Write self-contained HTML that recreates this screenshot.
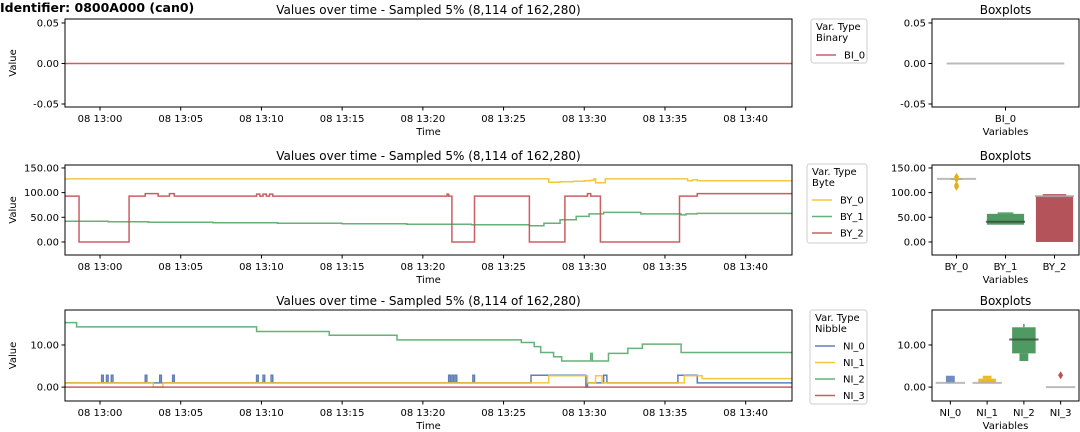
<!DOCTYPE html>
<html><head><meta charset="utf-8"><style>
html,body{margin:0;padding:0;background:#fff;}
svg{display:block;font-family:"DejaVu Sans","Liberation Sans",sans-serif;}
</style></head><body>
<svg id="chart" width="1080" height="432" viewBox="0 0 1080 432" xmlns="http://www.w3.org/2000/svg">
<text x="0" y="12" font-size="12.5" font-weight="bold">Identifier: 0800A000 (can0)</text>
</svg>
<script>
// ---------- data ----------
const xTickMinutes = [0,5,10,15,20,25,30,35,40];
const xTickLabels = ["08 13:00","08 13:05","08 13:10","08 13:15","08 13:20","08 13:25","08 13:30","08 13:35","08 13:40"];
// binary
const bi0T = [-2.17, 42.87];
const bi0V = [0, 0];
// byte
const by0T = [-2.17, 27.8, 28.5, 29.3, 30.0, 30.4, 30.6, 30.7, 31.3, 36.4, 36.7, 37.0];
const by0V = [128, 121, 122, 123, 124, 125, 128, 120, 128, 124, 126, 124];
const by1T = [-2.17, 0.5, 3, 7, 11, 15, 19, 23, 26.6, 27.5, 28.5, 29.5, 30.3, 31.2, 33.5, 36.0, 36.3, 37.0];
const by1V = [42, 41, 40, 39, 38, 37, 36, 35, 33, 38, 45, 52, 57, 60, 57, 55, 57, 58];
const by2T = [-2.17, -1.3, 1.8, 2.8, 3.6, 4.3, 4.6, 9.7, 9.9, 10.1, 10.3, 10.5, 10.7, 21.5, 21.6, 21.8, 23.2, 26.6, 28.8, 30.2, 30.4, 31.0, 35.9, 37.0];
const by2V = [93, 0, 93, 98, 93, 98, 93, 97, 93, 97, 93, 97, 93, 97, 93, 0, 93, 0, 93, 98, 93, 0, 93, 98];
// nibble
const ni0T = [-2.17, 0.1, 0.2, 0.4, 0.5, 0.7, 0.8, 2.8, 2.9, 3.7, 3.8, 4.5, 4.6, 9.7, 9.8, 10.1, 10.2, 10.6, 10.7, 21.6, 21.7, 21.8, 21.9, 22.0, 22.1, 23.1, 23.2, 26.7, 30.1, 30.2, 31.2, 31.4, 35.8, 37.0];
const ni0V = [1, 2.8, 1, 2.8, 1, 2.8, 1, 2.8, 1, 2.8, 1, 2.8, 1, 2.8, 1, 2.8, 1, 2.8, 1, 2.8, 1, 2.8, 1, 2.8, 1, 2.8, 1, 2.8, 0, 1, 2.8, 1, 2.8, 1];
const ni1T = [-2.17, 3.3, 3.9, 27.8, 30.2, 30.7, 31.1, 36.2, 37.3];
const ni1V = [1, 0, 1, 2.7, 1, 2.7, 1, 2.7, 2];
const ni2T = [-2.17, -1.45, 9.7, 14.2, 18.4, 26.1, 26.9, 27.3, 28.1, 28.6, 30.4, 30.5, 31.5, 32.7, 33.6, 36.0];
const ni2V = [15.3, 14.3, 13.2, 12.3, 11.2, 10.6, 9.6, 8.2, 7.2, 6.2, 8, 6.2, 8, 9.2, 10.2, 8.2];
const ni3T = [-2.17, 42.87];
const ni3V = [0, 0];
// boxplot summaries: tiers [low, high, widthFraction]
const boxCatsBinary = ["BI_0"];
const boxCatsByte = ["BY_0","BY_1","BY_2"];
const boxCatsNibble = ["NI_0","NI_1","NI_2","NI_3"];
const by0Tiers = [[126,129,0.3]]; const by0Median = 128; const by0Out = [112,115,127,132];
const by1Tiers = [[35,57,0.95],[57,60,0.4]]; const by1Median = 41; const by1Out = [];
const by2Tiers = [[0,93,0.95],[93,97,0.6]]; const by2Median = 93; const by2Out = [];
const ni0Tiers = [[1,2.7,0.3]]; const ni0Median = 1; const ni0Out = [];
const ni1Tiers = [[1,2,0.6],[2,2.7,0.3]]; const ni1Median = 1; const ni1Out = [];
const ni2Tiers = [[8,14.2,0.8],[6.2,8,0.3],[14.2,15,0.05]]; const ni2Median = 11.3; const ni2Out = [];
const ni3Tiers = []; const ni3Median = 0; const ni3Out = [2.8];
const bi0Tiers = []; const bi0Median = 0; const bi0Out = [];

// ---------- drawing ----------
const NS = "http://www.w3.org/2000/svg";
const svg = document.getElementById('chart');
const C = {blue:"#4c72b0", yellow:"#f2c22a", green:"#55a868", red:"#c44e52", gray:"#aaaaaa"};
function mk(tag, attrs, parent){ const e=document.createElementNS(NS,tag); for(const k in attrs) e.setAttribute(k,attrs[k]); (parent||svg).appendChild(e); return e; }
function txt(s, attrs, parent){ const e=mk('text',attrs,parent); e.textContent=s; return e; }
const T0=-2.17, T1=42.87, PX0=65, PX1=792;
function xS(t){ return PX0 + (t-T0)/(T1-T0)*(PX1-PX0); }

function panel(name, py0, py1, d0, d1, yTicks, yLabels, series, legendTitle, legend, lg){
  const g = mk('g',{});
  
  
  const yS = v => py1 - (v-d0)/(d1-d0)*(py1-py0);
  const clipId = 'clip-'+name;
  const cp = mk('clipPath',{id:clipId},g); mk('rect',{x:PX0,y:py0,width:PX1-PX0,height:py1-py0},cp);
  const sg = mk('g',{'clip-path':'url(#'+clipId+')'},g);
  series.forEach(s=>{
    let d='';
    for(let i=0;i<s.t.length;i++){
      const x=xS(s.t[i]), y=yS(s.v[i]);
      if(i===0) d+='M'+x+','+y; else d+='H'+x+'V'+y;
    }
    d+='H'+xS(T1);
    const p = mk('path',{d:d,fill:'none',stroke:s.c,'stroke-width':1.5,'stroke-opacity':0.9},sg);
    
    
  });
  mk('rect',{x:PX0,y:py0,width:PX1-PX0,height:py1-py0,fill:'none',stroke:'#000','stroke-width':1},g);
  yTicks.forEach((v,i)=>{
    const y=yS(v);
    mk('line',{x1:PX0-3.5,x2:PX0,y1:y,y2:y,stroke:'#000'},g);
    const t = txt(yLabels[i],{x:PX0-6,y:y+3.5,'font-size':10,'text-anchor':'end'},g);
    
    
  });
  xTickMinutes.forEach((m,i)=>{
    const x=xS(m);
    mk('line',{x1:x,x2:x,y1:py1,y2:py1+3.5,stroke:'#000'},g);
    const t = txt(xTickLabels[i],{x:x,y:py1+15,'font-size':10,'text-anchor':'middle'},g);
    
    
  });
  const xt = txt('Time',{x:(PX0+PX1)/2,y:py1+28,'font-size':10,'text-anchor':'middle'},g);
  
  
  const yc=(py0+py1)/2;
  const yt = txt('Value',{x:16,y:yc,'font-size':10,'text-anchor':'middle',transform:'rotate(-90 16 '+yc+')'},g);
  
  
  const tt = txt('Values over time - Sampled 5% (8,114 of 162,280)',{x:(PX0+PX1)/2,y:py0-5,'font-size':12,'text-anchor':'middle'},g);
  
  
  // legend
  const lgG = mk('g',{},g);
  
  
  mk('rect',{x:lg.x,y:lg.y,width:lg.w,height:lg.h,rx:2.5,fill:'#fff',stroke:'#cccccc','stroke-width':1},lgG);
  txt('Var. Type',{x:lg.x+5,y:lg.y+11,'font-size':10},lgG);
  txt(legendTitle,{x:lg.x+5,y:lg.y+22,'font-size':10},lgG);
  legend.forEach((s,i)=>{
    const y=lg.y+36+i*16.5;
    const e = mk('g',{},lgG);
    
    
    mk('line',{x1:lg.x+5,x2:lg.x+25,y1:y,y2:y,stroke:s.c,'stroke-width':1.5,'stroke-opacity':0.9},e);
    txt(s.n,{x:lg.x+33,y:y+3.5,'font-size':10},e);
  });
}

const BX0=932, BX1=1079;
function boxes(name, py0, py1, d0, d1, yTicks, yLabels, cats, items){
  const g = mk('g',{});
  
  
  const yS = v => py1 - (v-d0)/(d1-d0)*(py1-py0);
  const bw=(BX1-BX0)/cats.length;
  items.forEach((it,i)=>{
    const cx=BX0+bw*(i+0.5);
    const ig = mk('g',{},g);
    
    
    it.tiers.forEach(tr=>{
      const w=bw*0.8*tr[2];
      mk('rect',{x:cx-w/2,y:yS(tr[1]),width:w,height:Math.max(1,yS(tr[0])-yS(tr[1])),fill:it.c},ig);
    });
    const mw = bw*0.8;
    const medCol = it.tiers.length && it.tiers[0][2]>0.5 && it.median>it.tiers[0][0] && it.median<it.tiers[0][1] ? '#3a4a3a' : C.gray;
    mk('line',{x1:cx-mw/2,x2:cx+mw/2,y1:yS(it.median),y2:yS(it.median),stroke:medCol,'stroke-width':2,'stroke-opacity':0.8},ig);
    it.out.forEach(o=>{
      const y=yS(o);
      mk('path',{d:'M'+cx+','+(y-4)+'L'+(cx+2.5)+','+y+'L'+cx+','+(y+4)+'L'+(cx-2.5)+','+y+'Z',fill:it.c},ig);
    });
    mk('line',{x1:cx,x2:cx,y1:py1,y2:py1+3.5,stroke:'#000'},g);
    const t = txt(cats[i],{x:cx,y:py1+15,'font-size':10,'text-anchor':'middle'},g);
    
    
  });
  mk('rect',{x:BX0,y:py0,width:BX1-BX0,height:py1-py0,fill:'none',stroke:'#000'},g);
  yTicks.forEach((v,i)=>{
    const y=yS(v);
    mk('line',{x1:BX0-3.5,x2:BX0,y1:y,y2:y,stroke:'#000'},g);
    txt(yLabels[i],{x:BX0-6,y:y+3.5,'font-size':10,'text-anchor':'end'},g);
  });
  const xt = txt('Variables',{x:(BX0+BX1)/2,y:py1+28,'font-size':10,'text-anchor':'middle'},g);
  
  
  const tt = txt('Boxplots',{x:(BX0+BX1)/2,y:py0-5,'font-size':12,'text-anchor':'middle'},g);
  
  
}

// Row 1: binary
panel('binary',19,107,-0.0537,0.0549,[0.05,0,-0.05],["0.05","0.00","-0.05"],
  [{n:'BI_0',t:bi0T,v:bi0V,c:C.red}],'Binary',[{n:'BI_0',c:C.red}],{x:811,y:19,w:56,h:44});
boxes('binary',19,107,-0.0537,0.0549,[0.05,0,-0.05],["0.05","0.00","-0.05"],boxCatsBinary,
  [{tiers:bi0Tiers,median:bi0Median,out:bi0Out,c:C.red}]);
// Row 2: byte
panel('byte',165,255,-26.4,156,[150,100,50,0],["150.00","100.00","50.00","0.00"],
  [{n:'BY_0',t:by0T,v:by0V,c:C.yellow},{n:'BY_1',t:by1T,v:by1V,c:C.green},{n:'BY_2',t:by2T,v:by2V,c:C.red}],
  'Byte',[{n:'BY_0',c:C.yellow},{n:'BY_1',c:C.green},{n:'BY_2',c:C.red}],{x:807,y:164,w:60,h:79});
boxes('byte',165,255,-26.4,156,[150,100,50,0],["150.00","100.00","50.00","0.00"],boxCatsByte,
  [{tiers:by0Tiers,median:by0Median,out:by0Out,c:'#e0b020'},
   {tiers:by1Tiers,median:by1Median,out:by1Out,c:'#4f9a62'},
   {tiers:by2Tiers,median:by2Median,out:by2Out,c:'#b4545a'}]);
// Row 3: nibble
panel('nibble',310,401,-3.3,18.3,[10,0],["10.00","0.00"],
  [{n:'NI_0',t:ni0T,v:ni0V,c:C.blue},{n:'NI_1',t:ni1T,v:ni1V,c:C.yellow},{n:'NI_2',t:ni2T,v:ni2V,c:C.green},{n:'NI_3',t:ni3T,v:ni3V,c:C.red}],
  'Nibble',[{n:'NI_0',c:C.blue},{n:'NI_1',c:C.yellow},{n:'NI_2',c:C.green},{n:'NI_3',c:C.red}],{x:810,y:310,w:57,h:94});
boxes('nibble',310,401,-3.3,18.3,[10,0],["10.00","0.00"],boxCatsNibble,
  [{tiers:ni0Tiers,median:ni0Median,out:ni0Out,c:'#6f8cc0'},
   {tiers:ni1Tiers,median:ni1Median,out:ni1Out,c:'#e8bb22'},
   {tiers:ni2Tiers,median:ni2Median,out:ni2Out,c:'#4f9a62'},
   {tiers:ni3Tiers,median:ni3Median,out:ni3Out,c:'#c44e52'}]);
</script>
</body></html>
